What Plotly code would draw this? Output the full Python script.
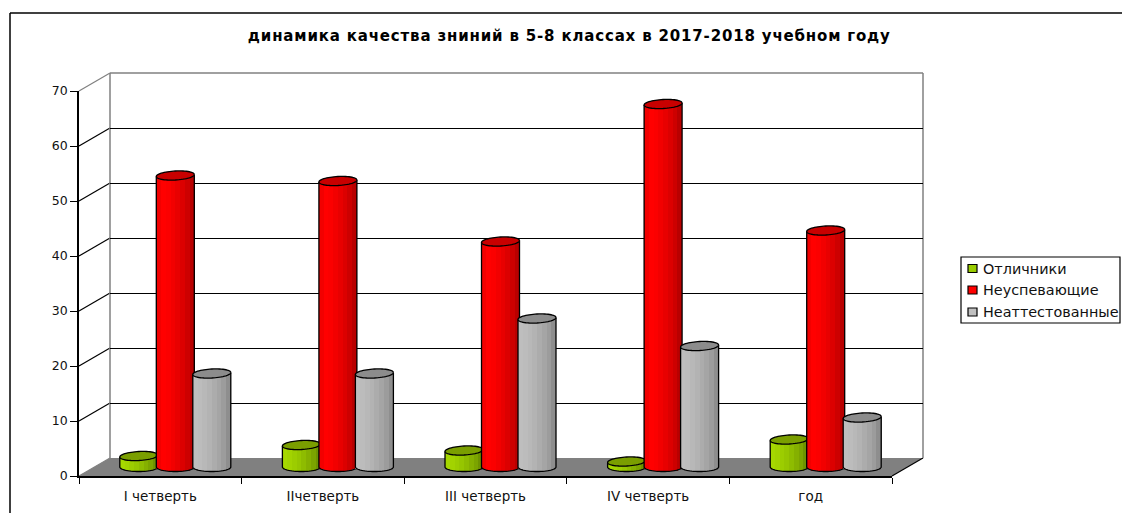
import numpy as np
import plotly.graph_objects as go

categories = ["I четверть", "IIчетверть", "III четверть", "IV четверть", "год"]
series_names = ["Отличники", "Неуспевающие", "Неаттестованные"]
excellent = [2, 4, 3, 1, 5]
failing = [53, 52, 41, 66, 43]
unattested = [17, 17, 27, 22, 9]
y_ticks = [0, 10, 20, 30, 40, 50, 60, 70]
title_text = "динамика качества зниний в 5-8 классах в 2017-2018 учебном году"

W, H = 1122, 513
FONT = "DejaVu Sans, Liberation Sans, Arial, sans-serif"

# Geometry in pixels
X0, X1, Y0, Y70 = 79, 892, 476, 91
DX, DY = 31, 18          # wall offset
BX, BY = 15, 9           # bar-row offset
PAD = 2                  # value units kept below zero on the bar axes


def px(x):
    return x / W


def py(y):
    return 1 - y / H


def xdom(dx):
    return [px(X0 + dx), px(X1 + dx)]


def ydom(dy, pad=0):
    return [py(Y0 - dy + pad * (Y0 - Y70) / 70), py(Y70 - dy)]


values = [excellent, failing, unattested]
strips = [
    ["#a6d800", "#a2d300", "#9ccd00", "#96c600", "#8ebc00", "#85b000", "#7ba400", "#6e9300"],
    ["#f20000", "#ff0000", "#fb0000", "#f20000", "#e80000", "#dc0000", "#cd0000", "#b90000"],
    ["#bebebe", "#bcbcbc", "#b8b8b8", "#b3b3b3", "#acacac", "#a5a5a5", "#9c9c9c", "#8e8e8e"],
]
caps = ["#7a9e00", "#c80000", "#8c8c8c"]
legend_colors = ["#99cc00", "#ff0000", "#c0c0c0"]

x_idx = np.arange(len(categories))
x_range = [-0.5, len(categories) - 0.5]
unit_x = (X1 - X0) / len(categories)
unit_y = (Y0 - Y70) / 70
bar_w = 38 / unit_x
spacing = 36.5 / unit_x
half_h = 4.5 / unit_y
skew = 1 / unit_y

fig = go.Figure()
theta = np.linspace(0, 2 * np.pi, 61)
theta_low = np.linspace(np.pi, 2 * np.pi, 31)

# Placeholder traces so that wall and front-axis subplots exist
fig.add_trace(go.Scatter(x=[0], y=[0], mode="markers", marker=dict(opacity=0), hoverinfo="skip",
                         showlegend=False, xaxis="x", yaxis="y"))
fig.add_trace(go.Scatter(x=[0], y=[0], mode="markers", marker=dict(opacity=0), hoverinfo="skip",
                         showlegend=False, xaxis="x2", yaxis="y2"))

for s, (name, vals) in enumerate(zip(series_names, values)):
    xa, ya = f"x{s + 3}", f"y{s + 3}"
    vals = np.array(vals, dtype=float)
    centers = x_idx + (s - 1) * spacing
    n = len(strips[s])
    sw = bar_w / n
    for j, c in enumerate(strips[s]):
        off = (s - 1) * spacing - bar_w / 2 + j * sw
        fig.add_trace(go.Bar(
            x=x_idx, y=vals, width=sw + 0.002, offset=off,
            marker=dict(color=c, line=dict(width=0)),
            name=name, legendgroup=name, showlegend=False,
            xaxis=xa, yaxis=ya,
            hoverinfo="skip" if j else "x+y+name",
        ))
        # rounded lower end of the cylinder, same strip colour
        u = (j + 0.5) / n * 2 - 1
        depth = half_h * np.sqrt(1 - u * u)
        fig.add_trace(go.Bar(
            x=x_idx, y=[depth] * len(x_idx), base=[-depth] * len(x_idx), width=sw + 0.002, offset=off,
            marker=dict(color=c, line=dict(width=0)),
            name=name, legendgroup=name, showlegend=False,
            xaxis=xa, yaxis=ya, hoverinfo="skip",
        ))
    for cx, v in zip(centers, vals):
        # body outline
        bx = cx + bar_w / 2 * np.cos(theta_low)
        by = half_h * np.sin(theta_low)
        ox = np.r_[cx - bar_w / 2, bx, cx + bar_w / 2]
        oy = np.r_[v - skew, by, v + skew]
        fig.add_trace(go.Scatter(
            x=ox, y=oy, mode="lines", line=dict(color="black", width=1.3, simplify=False),
            hoverinfo="skip", showlegend=False, xaxis=xa, yaxis=ya, cliponaxis=False))
        # top cap
        tx = cx + bar_w / 2 * np.cos(theta)
        ty = v + half_h * np.sin(theta) + skew * np.cos(theta)
        fig.add_trace(go.Scatter(
            x=tx, y=ty, mode="lines", fill="toself", fillcolor=caps[s],
            line=dict(color="black", width=1.3, simplify=False),
            hoverinfo="skip", showlegend=False, xaxis=xa, yaxis=ya, cliponaxis=False))

layout_axes = dict(
    xaxis=dict(domain=xdom(DX), range=x_range, visible=False, anchor="y"),
    yaxis=dict(domain=ydom(DY), range=[0, 70], anchor="x", showgrid=True, gridcolor="black", gridwidth=1,
               tickvals=y_ticks[1:-1], showticklabels=False, ticks="", zeroline=False, showline=False),
    xaxis2=dict(domain=xdom(0), range=x_range, anchor="y2", tickvals=list(x_idx), ticktext=categories,
                ticks="outside", ticklen=7, tickcolor="rgba(0,0,0,0)", showline=True, linecolor="black",
                linewidth=1.5, showgrid=False, zeroline=False,
                tickfont=dict(family=FONT, size=13.5, color="#111111"),
                minor=dict(tickvals=[i - 0.5 for i in range(len(categories) + 1)], ticks="outside",
                           ticklen=6, tickcolor="black", tickwidth=1.3, showgrid=False)),
    yaxis2=dict(domain=ydom(0), range=[0, 70], anchor="x2", tickvals=y_ticks, ticks="outside", ticklen=7,
                tickcolor="black", tickwidth=1.3, showline=True, linecolor="black", linewidth=1.5,
                showgrid=False, zeroline=False, tickfont=dict(family=FONT, size=12.5, color="#111111")),
)
for i in (3, 4, 5):
    layout_axes[f"xaxis{i}"] = dict(domain=xdom(BX), range=x_range, visible=False, anchor=f"y{i}")
    layout_axes[f"yaxis{i}"] = dict(domain=ydom(BY, PAD), range=[-PAD, 70], visible=False, anchor=f"x{i}")


def pline(x0, y0, x1, y1, color="black", width=1.2):
    return dict(type="line", xref="paper", yref="paper", x0=px(x0), y0=py(y0), x1=px(x1), y1=py(y1),
                line=dict(color=color, width=width), layer="below")


def pfront(v):
    return Y0 - v * unit_y


shapes = []
floor = (f"M{px(X0)},{py(Y0)} L{px(X0 + DX)},{py(Y0 - DY)} L{px(X1 + DX)},{py(Y0 - DY)} "
         f"L{px(X1)},{py(Y0)} Z")
shapes.append(dict(type="path", path=floor, xref="paper", yref="paper", fillcolor="#808080",
                   line=dict(width=0), layer="below"))
for v in y_ticks:
    col = "#808080" if v in (0, 70) else "black"
    shapes.append(pline(X0, pfront(v), X0 + DX, pfront(v) - DY, col))
shapes.append(pline(X1, Y0, X1 + DX, Y0 - DY, "black"))
shapes.append(pline(X0 + DX, Y70 - DY, X0 + DX, Y0 - DY, "#808080", 1.5))
shapes.append(pline(X1 + DX, Y70 - DY, X1 + DX, Y0 - DY, "#808080", 1.5))
shapes.append(pline(X0 + DX, Y70 - DY, X1 + DX, Y70 - DY, "#808080", 1.5))
shapes.append(pline(10, 13, 1122, 13, "black", 1.5))
shapes.append(pline(10, 13, 10, 513, "black", 1.5))
LX0, LX1, LY0, LY1 = 961, 1120, 257, 323
shapes.append(dict(type="rect", xref="paper", yref="paper", x0=px(LX0), x1=px(LX1), y0=py(LY1), y1=py(LY0),
                   fillcolor="white", line=dict(color="black", width=1.2), layer="below"))
legend_rows = [268.5, 290, 312]
annotations = [dict(text=f"<b>{title_text}</b>", x=px(569), y=py(36), xref="paper", yref="paper",
                    showarrow=False, xanchor="center", yanchor="middle",
                    font=dict(family=FONT, size=15, color="black"))]
for name, col, ly in zip(series_names, legend_colors, legend_rows):
    shapes.append(dict(type="rect", xref="paper", yref="paper", x0=px(968), x1=px(977), y0=py(ly + 4),
                       y1=py(ly - 4), fillcolor=col, line=dict(color="black", width=1.2), layer="below"))
    annotations.append(dict(text=name, x=px(981), y=py(ly), xref="paper", yref="paper", showarrow=False,
                            xanchor="left", yanchor="middle", font=dict(family=FONT, size=14.4, color="#111111")))

fig.update_layout(
    width=W, height=H, margin=dict(l=0, r=0, t=0, b=0, autoexpand=False),
    paper_bgcolor="white", plot_bgcolor="rgba(0,0,0,0)", barmode="overlay", bargap=0,
    showlegend=False, shapes=shapes, annotations=annotations, font=dict(family=FONT),
    **layout_axes,
)
post = """
document.body.style.margin='0';
function spaceTitle(){var t=document.querySelector('.annotation-text');if(t){t.style.letterSpacing='0.83px';}}
spaceTitle();setTimeout(spaceTitle,200);
"""
fig.write_html("out.html", config=dict(displayModeBar=False), post_script=post)
